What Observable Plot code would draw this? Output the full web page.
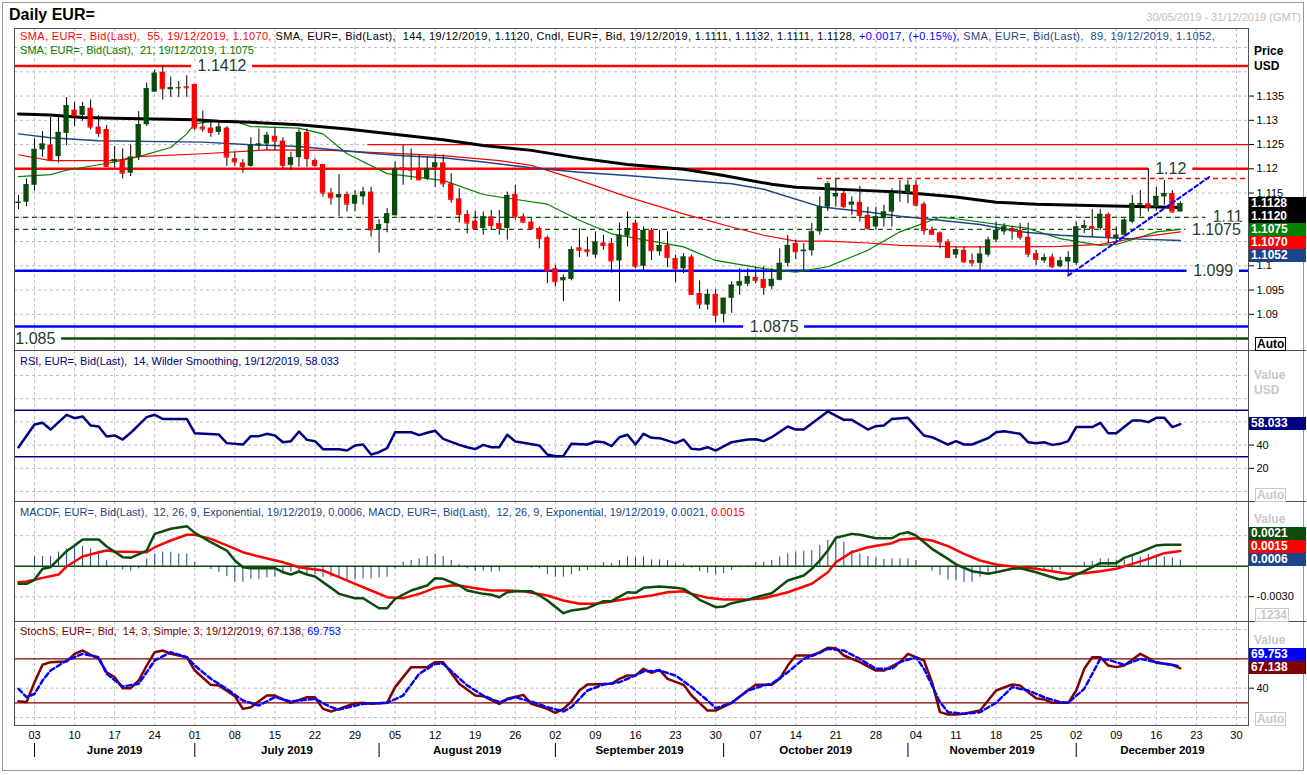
<!DOCTYPE html>
<html><head><meta charset="utf-8">
<script src="https://cdn.jsdelivr.net/npm/d3@7"></script>
<script src="https://cdn.jsdelivr.net/npm/@observablehq/plot@0.6"></script>
<style>
html,body{margin:0;padding:0;background:#fff;}
#wrap{position:relative;width:1307px;height:775px;overflow:hidden;font-family:"Liberation Sans",Arial,sans-serif;background:#fff;}
#wrap svg{position:absolute;left:0;overflow:visible;}
.t{position:absolute;white-space:pre;line-height:13px;font-size:11px;}
.badge{position:absolute;left:1249px;width:57px;height:13px;color:#fff;font-weight:bold;font-size:12px;line-height:13px;padding-left:2px;box-sizing:border-box;}
.hl{position:absolute;height:0;border-top:1px solid #505050;}
.box{position:absolute;left:1255px;height:12px;line-height:12px;font-size:12px;font-weight:bold;padding:0 1px;}
</style></head><body><div id="wrap"></div>
<script>
// ================= DATA =================
const opens = [1.1129,1.1131,1.1166,1.1239,1.1249,1.1225,1.1273,1.1321,1.1310,1.1325,
 1.1286,1.1281,1.1214,1.1217,1.1191,1.1224,1.1291,1.1358,1.1399,1.1363,
 1.1366,1.1369,1.1374,1.1286,1.1284,1.1275,1.1284,1.1221,1.1212,1.1205,
 1.1247,1.1251,1.1267,1.1257,1.1207,1.1223,1.1275,1.1217,1.1209,1.1150,
 1.1140,1.1147,1.1127,1.1142,1.1152,1.1074,1.1087,1.1103,1.1202,1.1200,
 1.1200,1.1179,1.1202,1.1212,1.1169,1.1138,1.1106,1.1092,1.1077,1.1101,
 1.1087,1.1077,1.1147,1.1101,1.1090,1.1077,1.1058,1.0994,1.0969,1.0972,
 1.1037,1.1033,1.1022,1.1047,1.1046,1.1010,1.1061,1.1088,1.0999,1.1073,
 1.1029,1.1042,1.1015,1.0994,1.1018,1.0943,1.0919,1.0941,1.0900,1.0933,
 1.0958,1.0962,1.0976,1.0972,1.0957,1.0970,1.1005,1.1046,1.1029,1.1031,
 1.1070,1.1121,1.1142,1.1149,1.1125,1.1131,1.1104,1.1080,1.1097,1.1111,
 1.1149,1.1149,1.1166,1.1127,1.1074,1.1068,1.1049,1.1022,1.1032,1.1011,
 1.1005,1.1022,1.1053,1.1070,1.1077,1.1073,1.1059,1.1025,1.1010,1.1018,
 1.0998,1.1008,1.1005,1.1077,1.1081,1.1077,1.1106,1.1056,1.1063,1.1090,
 1.1125,1.1128,1.1120,1.1142,1.1149,1.1111];
const highs = [1.1145,1.1179,1.1262,1.1277,1.1306,1.1310,1.1347,1.1337,1.1337,1.1342,
 1.1310,1.1289,1.1246,1.1241,1.1249,1.1318,1.1377,1.1404,1.1411,1.1389,
 1.1380,1.1392,1.1374,1.1319,1.1299,1.1296,1.1287,1.1234,1.1219,1.1264,
 1.1282,1.1275,1.1284,1.1264,1.1234,1.1282,1.1282,1.1221,1.1209,1.1159,
 1.1188,1.1152,1.1155,1.1162,1.1162,1.1095,1.1118,1.1214,1.1248,1.1241,
 1.1229,1.1224,1.1231,1.1229,1.1190,1.1159,1.1114,1.1112,1.1111,1.1114,
 1.1114,1.1152,1.1166,1.1107,1.1097,1.1080,1.1061,1.1001,1.0981,1.1039,
 1.1077,1.1059,1.1070,1.1063,1.1056,1.1088,1.1111,1.1094,1.1080,1.1077,
 1.1073,1.1070,1.1022,1.1025,1.1022,1.0969,1.0951,1.0951,1.0933,1.0967,
 1.0994,1.0994,1.0998,1.0998,1.0994,1.1035,1.1063,1.1053,1.1046,1.1087,
 1.1142,1.1173,1.1179,1.1155,1.1142,1.1164,1.1121,1.1121,1.1125,1.1159,
 1.1176,1.1176,1.1176,1.1131,1.1080,1.1070,1.1054,1.1039,1.1039,1.1024,
 1.1040,1.1059,1.1090,1.1087,1.1081,1.1087,1.1088,1.1032,1.1024,1.1024,
 1.1018,1.1029,1.1090,1.1094,1.1116,1.1116,1.1109,1.1080,1.1097,1.1145,
 1.1155,1.1200,1.1162,1.1176,1.1155,1.1132];
const lows = [1.1116,1.1122,1.1155,1.1224,1.1215,1.1212,1.1248,1.1287,1.1298,1.1280,
 1.1265,1.1203,1.1202,1.1179,1.1184,1.1217,1.1287,1.1358,1.1342,1.1347,
 1.1347,1.1347,1.1279,1.1275,1.1265,1.1269,1.1205,1.1205,1.1191,1.1203,
 1.1238,1.1238,1.1238,1.1200,1.1198,1.1203,1.1203,1.1203,1.1142,1.1125,
 1.1102,1.1111,1.1111,1.1125,1.1059,1.1026,1.1068,1.1103,1.1166,1.1176,
 1.1176,1.1176,1.1161,1.1161,1.1129,1.1088,1.1066,1.1073,1.1063,1.1073,
 1.1063,1.1053,1.1094,1.1087,1.1073,1.1035,1.0963,1.0957,1.0926,1.0969,
 1.1017,1.1018,1.1015,1.1032,1.0985,1.0926,1.1039,1.0994,1.0991,1.1011,
 1.1020,1.0996,1.0965,1.0984,1.0939,1.0910,1.0909,1.0882,1.0882,1.0902,
 1.0939,1.0957,1.0963,1.0939,1.0951,1.0969,1.0998,1.1013,1.0989,1.1020,
 1.1063,1.1112,1.1121,1.1118,1.1104,1.1090,1.1073,1.1073,1.1080,1.1080,
 1.1131,1.1128,1.1121,1.1063,1.1063,1.1035,1.1015,1.1015,1.1005,1.0998,
 1.0987,1.1018,1.1047,1.1063,1.1053,1.1053,1.1017,1.1001,1.1005,1.0994,
 1.0996,1.0978,1.1001,1.1066,1.1059,1.1073,1.1046,1.1046,1.1059,1.1087,
 1.1101,1.1111,1.1113,1.1125,1.1109,1.1111];
const closes = [1.1131,1.1167,1.1240,1.1251,1.1217,1.1275,1.1330,1.1310,1.1328,1.1286,
 1.1273,1.1205,1.1219,1.1191,1.1224,1.1291,1.1365,1.1397,1.1365,1.1367,
 1.1367,1.1367,1.1284,1.1282,1.1275,1.1286,1.1224,1.1214,1.1205,1.1248,
 1.1251,1.1269,1.1257,1.1207,1.1223,1.1275,1.1221,1.1207,1.1150,1.1140,
 1.1147,1.1127,1.1145,1.1152,1.1074,1.1085,1.1107,1.1200,1.1198,1.1197,
 1.1177,1.1200,1.1212,1.1169,1.1137,1.1106,1.1088,1.1077,1.1101,1.1083,
 1.1077,1.1145,1.1101,1.1090,1.1077,1.1056,1.0989,1.0967,1.0975,1.1033,
 1.1032,1.1029,1.1049,1.1042,1.1010,1.1063,1.1077,1.0999,1.1073,1.1031,
 1.1042,1.1017,1.0994,1.1018,1.0941,1.0921,1.0941,1.0898,1.0933,1.0960,
 1.0967,1.0978,1.0970,1.0955,1.0972,1.1005,1.1042,1.1029,1.1032,1.1070,
 1.1121,1.1169,1.1149,1.1122,1.1131,1.1104,1.1077,1.1101,1.1111,1.1150,
 1.1152,1.1166,1.1125,1.1073,1.1065,1.1049,1.1017,1.1033,1.1008,1.1006,
 1.1024,1.1053,1.1073,1.1080,1.1072,1.1059,1.1024,1.1013,1.1017,1.0998,
 1.1010,1.1017,1.1080,1.1083,1.1077,1.1106,1.1058,1.1063,1.1094,1.1128,
 1.1128,1.1120,1.1143,1.1149,1.1111,1.1128];

const sma144Day = [0,4,8,12,22,25,29,35,41,48,53,58,64,70,76,83,88,94,97,106,110,117,122,127,135,141,145];
const sma144Val = [1.1313,1.1311,1.1306,1.1304,1.1301,1.1298,1.1296,1.1291,1.1282,1.1269,1.1260,1.1248,1.1238,1.1222,1.1209,1.1199,1.1186,1.1168,1.1162,1.1155,1.1152,1.1142,1.1131,1.1127,1.1124,1.1122,1.1120];
const sma89Day = [0,4,10,23,30,35,39,44,48,53,58,64,70,76,83,89,93,100,106,110,115,120,125,130,135,140,145];
const sma89Val = [1.1272,1.1264,1.1258,1.1255,1.1249,1.1246,1.1240,1.1232,1.1227,1.1223,1.1214,1.1202,1.1193,1.1186,1.1177,1.1169,1.1158,1.1122,1.1111,1.1102,1.1094,1.1085,1.1070,1.1063,1.1059,1.1055,1.1052];
const sma55Day = [0,4,12,15,23,31,39,44,53,60,64,70,76,83,89,93,97,101,106,110,117,125,130,135,140,145];
const sma55Val = [1.1229,1.1217,1.1217,1.1225,1.1231,1.1239,1.1238,1.1234,1.1227,1.1217,1.1207,1.1176,1.1142,1.1107,1.1080,1.1063,1.1051,1.1051,1.1047,1.1042,1.1039,1.1039,1.1040,1.1044,1.1059,1.1070];
const sma21Day = [0,4,6,12,15,19,21,22,25,27,29,35,38,41,46,53,58,66,70,74,83,87,93,97,101,106,110,115,117,126,130,135,137,140,142,145];
const sma21Val = [1.1184,1.1188,1.1197,1.1214,1.1225,1.1244,1.1272,1.1293,1.1299,1.1298,1.1287,1.1284,1.1272,1.1231,1.1190,1.1176,1.1147,1.1127,1.1094,1.1066,1.1039,1.1011,1.0994,1.0987,1.0998,1.1032,1.1070,1.1100,1.1097,1.1077,1.1056,1.1042,1.1044,1.1059,1.1070,1.1075];

const levelVal = [1.1412, 1.125, 1.12, 1.118, 1.11, 1.1075, 1.099, 1.0875, 1.085];
const levelFromDay = [-0.5, 43.6, -0.5, 99.7, -0.5, -0.5, -0.5, -0.5, -0.5];
const levelToDay = [153.5, 153.5, 153.5, 153.5, 148.3, 145.8, 153.5, 153.5, 153.5];
const levelText = ["1.1412", "", "1.12", "", "1.11", "1.1075", "1.099", "1.0875", "1.085"];
const levelTextDay = [25.4, 0, 143.8, 0, 150.9, 149.5, 149.1, 94.3, 2.1];
const trendDay = [131, 148.6];
const trendVal = [1.098, 1.1183];

const rsiDay = [0,2,3,4,6,7,8,9,10,11,12,13,14,16,17,18,21,22,25,26,28,29,30,31,32,33,34,35,36,37,38,40,41,42,43,44,45,46,47,49,50,51,52,53,55,56,57,58,59,60,61,62,63,65,66,67,68,69,71,72,73,74,75,76,77,78,79,80,82,83,84,85,86,87,89,91,92,93,94,96,97,98,101,103,104,106,107,108,109,111,113,114,116,117,118,119,121,122,123,125,126,127,128,129,130,131,132,134,135,136,137,139,140,141,142,143,144,145];
const rsiVal = [38.2,57.8,59.2,53.4,66.1,63.2,64.7,56.9,56.0,47.4,48.3,44.8,50.6,64.1,66.1,62.6,62.6,50.3,49.1,41.7,40.5,47.7,47.7,49.7,48.3,42.5,43.4,51.7,44.5,43.4,36.5,36.5,35.3,39.7,40.5,31.9,33.9,37.4,51.1,51.1,48.6,50.6,52.3,45.4,40.2,38.2,36.5,40.2,38.2,38.2,48.9,43.1,42.0,39.7,31.9,30.4,30.7,41.1,40.5,43.1,42.5,39.1,46.8,48.9,40.5,49.7,46.3,46.0,41.7,44.8,36.8,36.2,38.2,35.3,42.5,44.8,45.1,43.4,46.8,56.0,53.4,53.4,69.0,61.8,61.8,53.4,56.3,56.9,62.6,63.5,48.3,46.8,40.5,43.4,40.5,40.5,46.0,51.1,52.0,49.7,42.5,41.6,42.5,40.2,41.1,43.4,55.5,55.5,59.2,50.3,50.3,61.2,61.2,59.8,63.5,63.5,55.5,58.033];

const macdDay = [0,1,2,3,4,6,7,8,10,11,13,14,16,17,19,21,22,24,26,27,28,29,32,33,34,35,36,37,39,40,42,43,44,45,46,47,49,51,52,53,55,56,58,59,60,61,62,64,65,66,68,69,71,73,74,76,77,78,80,82,83,84,85,87,88,89,91,92,94,96,98,99,100,101,102,104,105,107,109,110,111,112,114,116,117,119,121,122,124,125,127,129,130,131,133,135,137,138,140,142,143,145];
const macdVal = [-0.00173,-0.00173,-0.00134,-0.00026,-0.0001,0.00148,0.00204,0.00263,0.00263,0.00194,0.00089,0.00082,0.00154,0.00318,0.00368,0.00394,0.00328,0.00236,0.00154,0.00056,-0.0001,-0.0002,-0.0002,-0.00059,-0.00082,-0.00052,-0.00082,-0.00101,-0.00213,-0.00272,-0.00315,-0.00315,-0.00364,-0.00413,-0.00413,-0.00321,-0.00239,-0.0019,-0.00118,-0.00124,-0.0019,-0.00239,-0.00272,-0.00281,-0.00305,-0.00256,-0.00246,-0.00246,-0.00288,-0.00337,-0.00462,-0.00436,-0.00413,-0.00344,-0.00344,-0.00256,-0.00262,-0.00213,-0.002,-0.00213,-0.00223,-0.00272,-0.00331,-0.00403,-0.00397,-0.00364,-0.00331,-0.00305,-0.00266,-0.00141,-0.00091,-0.00026,0.00056,0.00154,0.00279,0.00318,0.00309,0.00275,0.00275,0.00318,0.00334,0.00302,0.00171,0.00072,0.00017,-0.00049,-0.00075,-0.00059,-0.00026,-0.0002,-0.00059,-0.00108,-0.00131,-0.00118,-0.00049,0.0003,0.0003,0.00082,0.00138,0.00204,0.0021,0.0021];
const sigDay = [0,1,3,5,6,8,10,11,12,16,17,19,21,22,24,26,28,30,33,35,38,40,42,44,46,48,50,52,54,55,57,59,61,63,66,68,70,72,74,76,79,81,83,84,86,88,91,93,96,99,101,102,104,106,109,110,112,114,116,118,120,122,124,127,129,131,133,135,137,139,141,143,145];
const sigVal = [-0.00157,-0.00151,-0.00115,-0.00082,-0.00003,0.00095,0.00138,0.00154,0.00145,0.00138,0.00187,0.00253,0.00309,0.00309,0.00269,0.00204,0.00138,0.00095,0.00039,-0.0001,-0.00042,-0.00108,-0.00173,-0.00239,-0.00305,-0.00315,-0.00272,-0.00213,-0.0019,-0.0019,-0.00216,-0.00239,-0.00239,-0.00246,-0.00288,-0.00337,-0.0037,-0.0037,-0.00347,-0.00321,-0.00288,-0.00256,-0.00246,-0.00272,-0.00311,-0.00328,-0.00328,-0.00315,-0.00256,-0.00173,-0.00059,0.00039,0.00138,0.00187,0.00226,0.0026,0.00275,0.00253,0.00197,0.00122,0.00056,0.00017,-0.00003,-0.00026,-0.00049,-0.00075,-0.00069,-0.00049,-0.00026,0.00023,0.00072,0.00128,0.0015];
const macdfVal = [-0.0001,-0.0001,0.00095,0.00095,0.00095,0.00138,0.0017,0.00187,0.00194,0.0017,
 0.00138,0.00056,0.00007,-0.00036,-0.00049,-0.00026,0.00072,0.00121,0.00138,0.00138,
 0.00121,0.00121,0.00039,-0.0001,-0.00033,-0.00059,-0.00102,-0.00157,-0.00157,-0.00125,
 -0.00131,-0.00115,-0.00108,-0.00075,-0.00059,-0.00059,-0.00075,-0.00082,-0.00108,-0.00108,
 -0.00118,-0.00134,-0.00131,-0.00125,-0.00125,-0.00115,-0.00108,-0.00026,0.00039,0.00056,
 0.00072,0.00095,0.00121,0.00095,0.00056,0.00016,-0.00026,-0.00052,-0.00049,-0.00059,
 -0.00052,-0.0001,-0.0001,-0.0001,-0.0002,-0.00026,-0.00082,-0.00108,-0.00108,-0.00082,
 -0.00052,-0.00043,0.00007,0.00033,0.00023,0.00056,0.00089,0.00079,0.00089,0.00062,
 0.00062,0.00056,0.00023,0.00016,-0.0002,-0.00052,-0.00069,-0.00082,-0.00075,-0.00043,
 -0.00016,0.00007,0.00033,0.00039,0.00056,0.00089,0.00121,0.00138,0.00148,0.00154,
 0.00203,0.00253,0.00285,0.00236,0.00154,0.00121,0.00095,0.00082,0.00066,0.00072,
 0.00072,0.00072,0.00056,-0.0001,-0.00049,-0.00092,-0.00134,-0.00141,-0.00157,-0.00157,
 -0.00108,-0.00092,-0.00069,-0.00016,-0.0001,0,-0.00026,-0.00043,-0.00049,-0.00052,
 -0.00043,-0.0001,0,0.00039,0.00046,0.00072,0.00072,0.00062,0.00056,0.00105,
 0.00089,0.00115,0.00115,0.00089,0.00082,0.0006];

const kDay = [0,1,2,3,4,6,7,8,9,10,11,12,13,14,15,16,17,18,19,21,22,24,25,27,28,29,31,32,34,36,37,38,39,40,42,43,44,46,47,49,51,52,53,55,57,58,60,61,63,64,66,67,68,69,70,71,74,75,76,77,78,79,80,81,83,84,86,87,89,91,92,94,95,96,97,99,100,101,102,103,105,107,108,110,111,113,114,115,116,117,118,120,121,122,124,125,126,127,128,129,131,132,133,134,135,136,137,138,140,141,142,144,145];
const kVal = [22,21,48,72,75.5,76.3,86.9,91.4,85.5,80,61.8,55,40,40,50.5,70.9,89.1,91.4,86.9,82.3,64.1,44.6,43.7,29.1,11.8,14.1,30,30,20,27.7,27.7,11.8,8.2,11.8,19.5,20,18.6,20,41.4,68.7,68.7,75.5,75.5,45.9,30,29.1,18.6,25.5,30.9,18.6,11.8,6.4,11.8,21.8,36.8,45,45.9,52.8,57.3,57.3,66.4,61,65,52.8,44.6,30,9.5,9.5,20,36.8,44.6,44.6,52.8,70.9,84.6,84.6,89.1,95.1,94.6,84.6,75.5,64.1,64.1,75.5,86.9,77.8,48.2,7.3,4.1,4.1,5,9.5,23.2,36.8,45,43.7,34.6,26.4,24.6,20,20,36.8,66.4,82.3,82.3,70.9,68.7,70.9,86.9,80.9,74.6,71.9,67.138];
const dDay = [0,1,2,3,4,6,8,10,11,13,15,17,19,21,22,24,26,28,30,32,34,37,39,40,43,46,48,50,52,53,56,58,60,62,64,66,68,69,71,73,75,76,78,80,82,84,86,87,89,91,93,94,96,98,100,101,103,105,107,109,110,112,113,115,116,118,120,122,124,126,128,130,131,133,135,136,138,140,142,145];
const dVal = [39.1,27.7,32.3,50.5,64.1,77.8,86.9,82.3,59.6,42.3,45.9,77.8,89.1,82.3,70.9,52.8,39.1,23.2,16.4,27.7,21.8,25.5,14.1,10.9,18.6,20,30,59.6,73.2,73.2,43.7,30,20.9,27.7,21.8,14.1,8.2,14.1,36.8,45,48.2,52.8,62.8,64.1,57.3,41.4,23.2,12.7,20,36.8,43.7,45.9,61.8,80,88.2,93.7,91.4,80,66.4,66.4,75.5,82.3,66.4,20.9,7.3,5,7.3,20,41.4,36.8,27.7,20.9,20,39.1,80,78.7,71.9,80,75.5,69.753];

const dayTickLabels = ["03","10","17","24","01","08","15","22","29","05","12","19","26","02","09","16","23","30","07","14","21","28","04","11","18","25","02","09","16","23","30"];
const monthNames = ["June 2019","July 2019","August 2019","September 2019","October 2019","November 2019","December 2019"];
const monthStartDay = [2, 22, 45, 67, 88, 111, 132];
const priceTicks = [1.09,1.095,1.1,1.115,1.12,1.125,1.13,1.135];

// ================= LAYOUT HELPERS =================
const W = 1307, ML = 14, MR = 59;
const XD = [-0.5, 153.5];
const FONT = '"Liberation Sans", Arial, sans-serif';
const GRID = "#bdbdbd";
const wrap = document.getElementById("wrap");
const tickDays = dayTickLabels.map((_, k) => 2 + 5 * k);
const pts = (ds, vs) => ds.map((d, k) => [d, vs[k]]);
const lineOf = (ds, vs, o) => Plot.line(pts(ds, vs), {x: d => d[0], y: d => d[1], ...o});

function div(cls, css, html) {
  const d = document.createElement("div");
  d.className = cls; Object.assign(d.style, css); d.innerHTML = html || "";
  wrap.appendChild(d); return d;
}
// stretch a one-line legend so that it ends where the reference's legend ends
function fitTo(d, rightX) {
  const r = d.getBoundingClientRect();
  const n = d.textContent.length;
  if (n > 1) d.style.letterSpacing = ((rightX - r.right) / (n - 1)).toFixed(3) + "px";
}
function panel(top, height, domain, hGrid, marks, ticks, fmt) {
  const chart = Plot.plot({
    width: W, height, marginLeft: ML, marginRight: MR, marginTop: 0, marginBottom: 0,
    x: {domain: XD, axis: null},
    y: {domain, axis: null},
    color: {type: "identity"},
    style: {fontFamily: FONT, fontSize: "11px", background: "transparent", color: "#000"},
    marks: [
      Plot.ruleX(tickDays, {x: d => d, stroke: GRID, strokeDasharray: "3,3"}),
      Plot.ruleY(hGrid, {y: d => d, stroke: GRID, strokeDasharray: "3,3"}),
      ...marks,
      Plot.axisY(ticks, {anchor: "right", tickSize: 5, tickPadding: 3, tickFormat: fmt, label: null, fontSize: 11, stroke: "#000"}),
      Plot.frame({stroke: "#505050"})
    ]
  });
  chart.style.top = top + "px";
  wrap.appendChild(chart);
  return chart;
}
function badges(chart, top, items, anchor) {
  const ys = chart.scale("y");
  const c = items.map(it => ys.apply(it.v));
  for (let k = anchor - 1; k >= 0; k--) c[k] = Math.min(c[k], c[k + 1] - 13);
  for (let k = anchor + 1; k < items.length; k++) c[k] = Math.max(c[k], c[k - 1] + 13);
  items.forEach((it, k) => div("badge", {top: (top + c[k] - 6.5) + "px", background: it.bg}, it.txt));
}

// ================= PRICE PANEL =================
const candles = opens.map((o, i) => ({i, o, h: highs[i], l: lows[i], c: closes[i]}));
const GREEN = "#0a4a0a";
const ccol = d => d.c >= d.o ? GREEN : "#ff0000";
const levelStyle = [
  {stroke: "#ff0000", strokeWidth: 2.5},
  {stroke: "#ff0000", strokeWidth: 1.3},
  {stroke: "#ff0000", strokeWidth: 2.5},
  {stroke: "#ff0000", strokeWidth: 1.3, strokeDasharray: "5,4"},
  {stroke: "#0a5a0a", strokeWidth: 1.3, strokeDasharray: "5,4"},
  {stroke: "#0a5a0a", strokeWidth: 1.3, strokeDasharray: "5,4"},
  {stroke: "#0000ff", strokeWidth: 2.5},
  {stroke: "#0000ff", strokeWidth: 2.5},
  {stroke: "#0a4a0a", strokeWidth: 2.5}
];
const labelled = levelText.map((t, k) => k).filter(k => levelText[k]);
const pxPerDay = (W - MR - ML) / (XD[1] - XD[0]);
const gapHalf = k => (levelText[k].length * 8.5 + 10) / 2 / pxPerDay;

const priceMarks = [
  ...levelVal.map((v, k) => Plot.ruleY([v], {y: d => d, x1: () => levelFromDay[k], x2: () => levelToDay[k], ...levelStyle[k]})),
  Plot.ruleY(labelled, {y: k => levelVal[k], x1: k => levelTextDay[k] - gapHalf(k), x2: k => levelTextDay[k] + gapHalf(k), stroke: "#fff", strokeWidth: 5}),
  lineOf(sma21Day, sma21Val, {stroke: "#008000", strokeWidth: 1.2}),
  lineOf(sma55Day, sma55Val, {stroke: "#ff0000", strokeWidth: 1.2}),
  lineOf(sma89Day, sma89Val, {stroke: "#1c4587", strokeWidth: 1.5}),
  lineOf(sma144Day, sma144Val, {stroke: "#000", strokeWidth: 3}),
  Plot.ruleX(candles, {x: "i", y1: "l", y2: "h", stroke: "#000", strokeWidth: 1}),
  Plot.rect(candles, {x1: d => d.i - 0.33, x2: d => d.i + 0.33, y1: "o", y2: "c", fill: ccol}),
  Plot.ruleY(candles, {x1: d => d.i - 0.33, x2: d => d.i + 0.33, y: "c", stroke: ccol, strokeWidth: 1}),
  lineOf(trendDay, trendVal, {stroke: "#0000ff", strokeWidth: 2, strokeDasharray: "4,3"}),
  Plot.text(labelled, {x: k => levelTextDay[k], y: k => levelVal[k], text: k => levelText[k], fontSize: 16, fill: "#253a30", stroke: "#fff", strokeWidth: 3})
];
const priceGrid = d3.range(1.085, 1.1451, 0.005);
const price = panel(28, 322, [1.082536, 1.148928], priceGrid, priceMarks, priceTicks, d => String(+d.toFixed(4)));
badges(price, 28, [
  {v: closes[closes.length - 1], bg: "#000", txt: closes[closes.length - 1].toFixed(4)},
  {v: sma144Val[sma144Val.length - 1], bg: "#000", txt: sma144Val[sma144Val.length - 1].toFixed(4)},
  {v: sma21Val[sma21Val.length - 1], bg: "#008000", txt: sma21Val[sma21Val.length - 1].toFixed(4)},
  {v: sma55Val[sma55Val.length - 1], bg: "#ff0000", txt: sma55Val[sma55Val.length - 1].toFixed(4)},
  {v: sma89Val[sma89Val.length - 1], bg: "#1c4587", txt: sma89Val[sma89Val.length - 1].toFixed(4)}
], 0);

// ================= RSI PANEL =================
const rsi = panel(350, 151, [-8.62, 121.55], [0, 20, 40, 60, 80, 100], [
  Plot.ruleY([70, 30], {y: d => d, stroke: "#000080", strokeWidth: 1.5}),
  lineOf(rsiDay, rsiVal, {stroke: "#000080", strokeWidth: 2.5})
], [20, 40], d => String(d));
badges(rsi, 350, [{v: rsiVal[rsiVal.length - 1], bg: "#000080", txt: rsiVal[rsiVal.length - 1].toFixed(3)}], 0);

// ================= MACD PANEL =================
const macdDays = macdfVal.map((_, i) => i);
const macd = panel(501, 120, [-0.005439, 0.006364], [-0.003, 0.003], [
  Plot.ruleX(macdDays, {x: i => i, y1: () => 0, y2: i => macdfVal[i], stroke: "#1c4587", strokeWidth: 1}),
  Plot.ruleY([0], {y: d => d, stroke: "#0a4a0a", strokeWidth: 1.5}),
  lineOf(sigDay, sigVal, {stroke: "#ff0000", strokeWidth: 2.5}),
  lineOf(macdDay, macdVal, {stroke: "#0b4b0b", strokeWidth: 2.5})
], [-0.003], d => d.toFixed(4));
badges(macd, 501, [
  {v: macdVal[macdVal.length - 1], bg: "#0b4b0b", txt: macdVal[macdVal.length - 1].toFixed(4)},
  {v: sigVal[sigVal.length - 1], bg: "#ff0000", txt: sigVal[sigVal.length - 1].toFixed(4)},
  {v: macdfVal[macdfVal.length - 1], bg: "#1c4587", txt: macdfVal[macdfVal.length - 1].toFixed(4)}
], 2);

// ================= STOCHASTIC PANEL =================
const stoch = panel(621, 104, [-10.91, 130.97], [0, 40, 120], [
  Plot.ruleY([80, 20], {y: d => d, stroke: "#800000", strokeWidth: 1.2}),
  lineOf(kDay, kVal, {stroke: "#800000", strokeWidth: 2.5}),
  lineOf(dDay, dVal, {stroke: "#0000ff", strokeWidth: 2.5, strokeDasharray: "5,3"})
], [40], d => String(d));
badges(stoch, 621, [
  {v: dVal[dVal.length - 1], bg: "#0000ff", txt: dVal[dVal.length - 1].toFixed(3)},
  {v: kVal[kVal.length - 1], bg: "#800000", txt: kVal[kVal.length - 1].toFixed(3)}
], 1);

// ================= DATE AXIS =================
const monthEnd = monthStartDay.slice(1).concat([XD[1]]);
const axis = Plot.plot({
  width: W, height: 46, marginLeft: ML, marginRight: MR, marginTop: 18, marginBottom: 14,
  x: {domain: XD, axis: null},
  style: {fontFamily: FONT, fontSize: "11px", background: "transparent", color: "#000"},
  marks: [
    Plot.text(dayTickLabels, {x: (d, k) => tickDays[k], text: d => d, frameAnchor: "top", lineAnchor: "middle", dy: -8, fontSize: 11}),
    Plot.ruleX(monthStartDay, {x: d => d, stroke: "#000", strokeWidth: 1}),
    Plot.text(monthNames, {x: (d, k) => (monthStartDay[k] + monthEnd[k]) / 2, text: d => d, frameAnchor: "middle", lineAnchor: "middle", fontSize: 11.5, fontWeight: "bold"})
  ]
});
axis.style.top = "725px";
wrap.appendChild(axis);

// ================= FRAME LINES & TEXT =================
div("", {position: "absolute", left: "2px", top: "2px", width: "1302px", height: "769px", border: "1px solid #9a9a9a", boxSizing: "border-box"});
[350, 501, 621].forEach(y => div("hl", {left: "1248px", width: "58px", top: y + "px"}));

div("t", {left: "9px", top: "6px", fontSize: "16px", lineHeight: "18px", fontWeight: "bold"}, "Daily EUR=");
div("t", {right: "6px", top: "11px", color: "#c0c0c0"}, "30/05/2019 - 31/12/2019 (GMT)");
const lg1 = div("t", {left: "20px", top: "30px"},
  '<span style="color:#ff0000">SMA, EUR=, Bid(Last),  55, 19/12/2019, 1.1070, </span>' +
  '<span style="color:#000">SMA, EUR=, Bid(Last),  144, 19/12/2019, 1.1120, Cndl, EUR=, Bid, 19/12/2019, 1.1111, 1.1132, 1.1111, 1.1128, </span>' +
  '<span style="color:#0000ff">+0.0017, (+0.15%), </span>' +
  '<span style="color:#1c4587">SMA, EUR=, Bid(Last),  89, 19/12/2019, 1.1052,</span>');
const lg2 = div("t", {left: "20px", top: "44px", color: "#008000"}, "SMA, EUR=, Bid(Last),  21, 19/12/2019, 1.1075");
const lg3 = div("t", {left: "20px", top: "355px", color: "#000080"}, "RSI, EUR=, Bid(Last),  14, Wilder Smoothing, 19/12/2019, 58.033");
const lg4 = div("t", {left: "20px", top: "506px", color: "#1c4587"},
  'MACDF, EUR=, Bid(Last),  12, 26, 9, Exponential, 19/12/2019, 0.0006, MACD, EUR=, Bid(Last),  12, 26, 9, Exponential, 19/12/2019, 0.0021, <span style="color:#ff0000">0.0015</span>');
const lg5 = div("t", {left: "20px", top: "625px", color: "#800000"},
  'StochS, EUR=, Bid,  14, 3, Simple, 3, 19/12/2019, 67.138, <span style="color:#0000ff">69.753</span>');
fitTo(lg1, 1215); fitTo(lg2, 254); fitTo(lg3, 339); fitTo(lg4, 745); fitTo(lg5, 341);

// right axis captions
div("t", {left: "1254px", top: "45px", fontSize: "12px", fontWeight: "bold"}, "Price");
div("t", {left: "1254px", top: "60px", fontSize: "12px", fontWeight: "bold"}, "USD");
div("t", {left: "1254px", top: "369px", fontSize: "12px", fontWeight: "bold", color: "#c8c8c8"}, "Value");
div("t", {left: "1254px", top: "384px", fontSize: "12px", fontWeight: "bold", color: "#c8c8c8"}, "USD");
div("t", {left: "1254px", top: "513px", fontSize: "12px", lineHeight: "13px", fontWeight: "bold", color: "#c8c8c8"}, "Value");
div("t", {left: "1254px", top: "634px", fontSize: "12px", lineHeight: "13px", fontWeight: "bold", color: "#c8c8c8"}, "Value");
// badges drawn above the captions
document.querySelectorAll(".badge").forEach(b => { b.style.zIndex = 2; wrap.appendChild(b); });
div("box", {top: "337px", border: "1px solid #000", color: "#000"}, "Auto");
div("box", {top: "488px", border: "1px solid #c8c8c8", color: "#c8c8c8"}, "Auto");
div("box", {top: "608px", border: "1px solid #c8c8c8", color: "#c8c8c8"}, ".1234");
div("box", {top: "712px", border: "1px solid #c8c8c8", color: "#c8c8c8"}, "Auto");
</script></body></html>
